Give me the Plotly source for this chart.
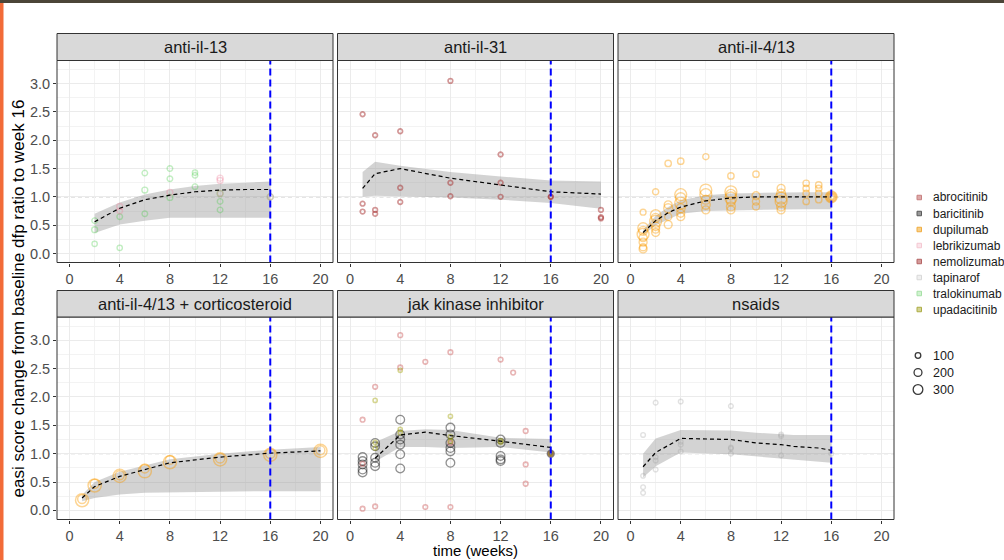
import math
import plotly.graph_objects as go

W, H = 1004, 560

# ---------------- data ----------------
panel_titles = ["anti-il-13", "anti-il-31", "anti-il-4/13",
                "anti-il-4/13 + corticosteroid", "jak kinase inhibitor", "nsaids"]
x_ticks = [0, 4, 8, 12, 16, 20]
y_ticks = [0.0, 0.5, 1.0, 1.5, 2.0, 2.5, 3.0]
drug_names = ["abrocitinib", "baricitinib", "dupilumab", "lebrikizumab",
              "nemolizumab", "tapinarof", "tralokinumab", "upadacitinib"]
size_breaks = [100, 200, 300]
cutoff_week = 16
reference_ratio = 1.0

# anti-il-13
tralo_week = [2, 2, 2, 4, 4, 6, 6, 6, 8, 8, 8, 10, 10, 10, 12, 12, 12, 16]
tralo_ratio = [0.58, 0.42, 0.17, 0.65, 0.10, 1.42, 1.12, 0.70, 1.50, 1.32, 0.99,
               1.43, 1.38, 1.18, 1.06, 0.92, 0.77, 1.00]
tralo_n = [100, 110, 90, 100, 90, 100, 110, 100, 100, 100, 110, 90, 100, 100, 110, 100, 100, 120]

lebri_week = [4, 4, 8, 12, 12, 12, 16]
lebri_ratio = [0.83, 0.75, 1.08, 1.33, 1.29, 1.06, 1.00]
lebri_n = [110, 100, 110, 120, 110, 100, 110]

# anti-il-31
nemo_week = [1, 1, 1, 2, 2, 2, 4, 4, 4, 8, 8, 8, 12, 12, 12, 16, 16, 20, 20, 20]
nemo_ratio = [2.46, 0.88, 0.74, 2.09, 0.77, 0.70, 2.16, 1.16, 0.91, 3.05, 1.25, 1.01,
              1.75, 1.25, 1.00, 1.00, 1.00, 0.77, 0.64, 0.62]
nemo_n = [70, 70, 70, 70, 70, 70, 70, 70, 70, 70, 70, 70, 70, 70, 70, 70, 60, 70, 70, 70]

# anti-il-4/13
dupi_week = [1, 1, 1, 1, 1, 1, 1, 1,
             2, 2, 2, 2, 2, 2, 2,
             3, 3, 3, 3, 3,
             4, 4, 4, 4, 4, 4, 4,
             6, 6, 6, 6, 6, 6,
             8, 8, 8, 8, 8, 8, 8,
             10, 10, 10, 10,
             12, 12, 12, 12, 12, 12,
             14, 14, 14, 14,
             15, 15, 15, 15,
             16, 16, 16, 16, 16]
dupi_ratio = [0.73, 0.45, 0.40, 0.34, 0.28, 0.20, 0.11, 0.08,
              1.09, 0.68, 0.63, 0.57, 0.48, 0.43, 0.37,
              1.59, 0.86, 0.80, 0.65, 0.51,
              1.63, 1.04, 0.98, 0.89, 0.80, 0.71, 0.65,
              1.71, 1.12, 1.04, 0.95, 0.86, 0.77,
              1.37, 1.09, 1.04, 0.98, 0.92, 0.83, 0.77,
              1.40, 1.02, 0.92, 0.83,
              1.15, 1.06, 0.98, 0.92, 0.83, 0.77,
              1.24, 1.15, 1.06, 0.92,
              1.21, 1.15, 1.06, 0.95,
              1.00, 1.00, 1.00, 1.00, 1.00]
dupi_n = [110, 350, 250, 450, 200, 200, 160, 200,
          120, 350, 250, 450, 220, 200, 200,
          130, 200, 250, 160, 200,
          130, 450, 350, 450, 250, 200, 200,
          120, 450, 450, 250, 250, 200,
          130, 450, 350, 450, 250, 250, 200,
          130, 200, 160, 160,
          200, 250, 450, 450, 250, 200,
          130, 130, 130, 130,
          130, 130, 130, 130,
          450, 350, 250, 160, 90]

# anti-il-4/13 + corticosteroid
dupi_cs_week = [1, 1, 2, 2, 4, 4, 6, 6, 8, 8, 12, 12, 16, 16, 20, 20]
dupi_cs_ratio = [0.18, 0.20, 0.44, 0.47, 0.61, 0.62, 0.69, 0.74, 0.85, 0.89,
                 0.90, 0.92, 0.98, 1.00, 1.05, 1.06]
dupi_cs_n = [550, 250, 550, 250, 550, 250, 550, 250, 550, 250, 550, 280, 550, 280, 550, 250]

# jak kinase inhibitor
abro_week = [1, 1, 1, 2, 2, 4, 4, 6, 6, 8, 8, 8, 12, 13, 14, 14, 14, 16]
abro_ratio = [1.60, 0.03, 0.82, 2.18, 0.07, 3.09, 2.52, 2.62, 0.06, 2.79, 0.06, 1.19,
              2.66, 2.43, 1.40, 0.81, 0.47, 1.00]
abro_n = [70, 70, 70, 70, 70, 70, 70, 70, 70, 70, 70, 70, 70, 70, 70, 70, 70, 70]

upa_week = [2, 2, 2, 4, 4, 4, 8, 8, 8, 12, 12, 16]
upa_ratio = [1.94, 1.20, 1.10, 2.47, 1.43, 1.37, 1.66, 1.30, 1.22, 1.23, 1.20, 1.00]
upa_n = [55, 55, 55, 55, 55, 55, 55, 55, 55, 55, 55, 55]

bari_week = [1, 1, 1, 1, 1, 2, 2, 2, 2, 2, 4, 4, 4, 4, 4, 4,
             8, 8, 8, 8, 8, 8, 12, 12, 12, 12, 12, 16, 16, 16, 16]
bari_ratio = [0.94, 0.87, 0.81, 0.72, 0.67, 1.19, 1.13, 0.93, 0.84, 0.78,
              1.60, 1.34, 1.25, 1.16, 0.99, 0.74,
              1.46, 1.34, 1.19, 1.10, 1.04, 0.84,
              1.25, 1.19, 0.96, 0.90, 0.87, 1.00, 1.00, 1.00, 1.00]
bari_n = [240, 240, 240, 240, 240, 240, 240, 240, 240, 240,
          240, 240, 240, 240, 240, 240,
          240, 240, 240, 240, 240, 240,
          240, 240, 240, 240, 240, 160, 90, 40, 15]

# nsaids
tapi_week = [1, 1, 1, 1, 2, 2, 2, 2, 4, 4, 4, 4, 8, 8, 8, 8, 12, 12, 12, 16]
tapi_ratio = [1.33, 0.61, 0.41, 0.31, 1.90, 0.94, 0.88, 0.72, 1.92, 1.21, 1.16, 1.04,
              1.84, 1.11, 1.09, 1.00, 1.34, 1.31, 0.97, 1.00]
tapi_n = [70, 70, 70, 70, 70, 70, 70, 70, 70, 70, 70, 70, 70, 70, 70, 70, 70, 70, 70, 70]

# model mean and interval per panel
band_il13_week = [2, 4, 6, 8, 10, 12, 14, 16]
band_il13_mean = [0.56, 0.80, 0.95, 1.03, 1.09, 1.12, 1.13, 1.13]
band_il13_lo = [0.36, 0.51, 0.58, 0.63, 0.64, 0.64, 0.63, 0.63]
band_il13_hi = [0.70, 0.90, 1.04, 1.13, 1.19, 1.23, 1.25, 1.27]

band_il31_week = [1, 2, 4, 8, 12, 16, 20]
band_il31_mean = [1.15, 1.41, 1.50, 1.33, 1.21, 1.09, 1.05]
band_il31_lo = [1.00, 1.02, 1.01, 0.99, 0.95, 0.89, 0.79]
band_il31_hi = [1.44, 1.62, 1.55, 1.44, 1.36, 1.29, 1.27]

band_il413_week = [1, 2, 3, 4, 6, 8, 10, 12, 14, 16]
band_il413_mean = [0.37, 0.58, 0.72, 0.82, 0.93, 0.98, 1.00, 1.00, 1.00, 1.00]
band_il413_lo = [0.32, 0.50, 0.60, 0.70, 0.75, 0.76, 0.77, 0.78, 0.78, 0.78]
band_il413_hi = [0.42, 0.66, 0.82, 0.94, 1.03, 1.06, 1.07, 1.08, 1.08, 1.08]

band_cs_week = [1, 2, 4, 6, 8, 12, 16, 20]
band_cs_mean = [0.22, 0.42, 0.60, 0.72, 0.84, 0.94, 1.01, 1.05]
band_cs_lo = [0.16, 0.22, 0.28, 0.31, 0.32, 0.33, 0.34, 0.34]
band_cs_hi = [0.27, 0.50, 0.68, 0.79, 0.90, 1.00, 1.07, 1.12]

band_jak_week = [2, 4, 6, 8, 12, 16]
band_jak_mean = [0.92, 1.33, 1.38, 1.32, 1.22, 1.11]
band_jak_lo = [0.86, 1.12, 1.12, 1.10, 1.12, 1.02]
band_jak_hi = [1.20, 1.40, 1.43, 1.42, 1.28, 1.26]

band_nsaid_week = [1, 2, 4, 8, 10, 12, 13, 15, 16]
band_nsaid_mean = [0.77, 1.02, 1.27, 1.25, 1.19, 1.16, 1.13, 1.10, 1.06]
band_nsaid_lo = [0.58, 0.78, 1.02, 0.99, 0.95, 0.91, 0.89, 0.86, 0.84]
band_nsaid_hi = [1.00, 1.27, 1.42, 1.41, 1.37, 1.34, 1.33, 1.33, 1.33]

# ---------------- styling ----------------
FONT = "Liberation Sans, Arial, sans-serif"
drug_colors = {
    "abrocitinib": "rgba(205,92,92,0.65)",
    "baricitinib": "rgba(30,30,30,0.7)",
    "dupilumab": "rgba(250,155,0,0.6)",
    "lebrikizumab": "rgba(240,120,150,0.45)",
    "nemolizumab": "rgba(165,42,42,0.7)",
    "tapinarof": "rgba(160,160,160,0.45)",
    "tralokinumab": "rgba(60,200,60,0.45)",
    "upadacitinib": "rgba(160,160,0,0.6)",
}
key_colors = {
    "abrocitinib": ("#dcaaaa", "#c88080"),
    "baricitinib": ("#999999", "#5a5a5a"),
    "dupilumab": ("#f8d08a", "#f0ad40"),
    "lebrikizumab": ("#fbe4ea", "#f4c8d2"),
    "nemolizumab": ("#d49a9a", "#b46464"),
    "tapinarof": ("#f0f0f0", "#d8d8d8"),
    "tralokinumab": ("#d0f2d0", "#a6e0a6"),
    "upadacitinib": ("#d4d494", "#acac44"),
}

cols_px = [(57, 333), (337.5, 613.5), (618, 894)]
rows_px = [(60.5, 262.5), (317, 519.5)]
strips_px = [(33.5, 60.5), (290.5, 317)]
x_range = [-1, 21]
y_range = [-0.16, 3.41]

TICK_FONT = dict(size=14.5, color="#4d4d4d", family=FONT)


def px(x):
    return x / W


def py(y):
    return 1 - y / H


def msize(ns):
    return [0.56 * math.sqrt(n) for n in ns]


def axes(i):
    sfx = "" if i == 0 else str(i + 1)
    return "x" + sfx, "y" + sfx


fig = go.Figure()
layout = dict(
    width=W, height=H, margin=dict(l=0, r=0, t=0, b=0),
    paper_bgcolor="white", plot_bgcolor="white", showlegend=False,
    font=dict(family=FONT),
)
shapes = []
annotations = []

for i in range(6):
    r, c = divmod(i, 3)
    sfx = "" if i == 0 else str(i + 1)
    x0, x1 = cols_px[c]
    y0, y1 = rows_px[r]
    layout["xaxis" + sfx] = dict(
        domain=[px(x0), px(x1)], range=x_range, anchor="y" + sfx,
        tickvals=x_ticks, ticktext=[str(t) for t in x_ticks],
        ticks="outside", ticklen=3, tickcolor="#333333", tickwidth=1,
        tickfont=TICK_FONT,
        showgrid=True, gridcolor="#ebebeb", gridwidth=1.1, zeroline=False,
        showline=False,
        minor=dict(tickvals=[2, 6, 10, 14, 18], showgrid=True,
                   gridcolor="#f3f3f3", gridwidth=0.6, ticks=""),
    )
    layout["yaxis" + sfx] = dict(
        domain=[py(y1), py(y0)], range=y_range, anchor="x" + sfx,
        tickvals=y_ticks, ticktext=[f"{t:.1f}" for t in y_ticks],
        ticks="outside" if c == 0 else "", ticklen=3, tickcolor="#333333",
        showticklabels=(c == 0),
        tickfont=TICK_FONT,
        showgrid=True, gridcolor="#ebebeb", gridwidth=1.1, zeroline=False,
        showline=False,
        minor=dict(tickvals=[0.25, 0.75, 1.25, 1.75, 2.25, 2.75, 3.25],
                   showgrid=True, gridcolor="#f3f3f3", gridwidth=0.6, ticks=""),
    )
    xa, ya = axes(i)
    shapes.append(dict(type="line", xref=xa, yref=ya,
                       x0=x_range[0], x1=x_range[1], y0=reference_ratio, y1=reference_ratio,
                       line=dict(color="#b8b8b8", width=1, dash="4px,3px"),
                       layer="below"))
    shapes.append(dict(type="line", xref=xa, yref=ya,
                       x0=cutoff_week, x1=cutoff_week, y0=y_range[0], y1=y_range[1],
                       line=dict(color="#0000ff", width=2, dash="7px,4px"),
                       layer="above"))
    shapes.append(dict(type="rect", xref="paper", yref="paper",
                       x0=px(x0), x1=px(x1), y0=py(y1), y1=py(y0),
                       line=dict(color="#333333", width=1),
                       layer="above"))
    s0, s1 = strips_px[r]
    shapes.append(dict(type="rect", xref="paper", yref="paper",
                       x0=px(x0), x1=px(x1), y0=py(s1), y1=py(s0),
                       line=dict(color="#333333", width=1), fillcolor="#d9d9d9",
                       layer="above"))
    annotations.append(dict(text=panel_titles[i], xref="paper", yref="paper",
                            x=px((x0 + x1) / 2), y=py((s0 + s1) / 2),
                            xanchor="center", yanchor="middle", showarrow=False,
                            font=dict(size=16.5, color="#1a1a1a", family=FONT)))

bands = [
    (band_il13_week, band_il13_mean, band_il13_lo, band_il13_hi),
    (band_il31_week, band_il31_mean, band_il31_lo, band_il31_hi),
    (band_il413_week, band_il413_mean, band_il413_lo, band_il413_hi),
    (band_cs_week, band_cs_mean, band_cs_lo, band_cs_hi),
    (band_jak_week, band_jak_mean, band_jak_lo, band_jak_hi),
    (band_nsaid_week, band_nsaid_mean, band_nsaid_lo, band_nsaid_hi),
]

points = [
    (0, "tralokinumab", tralo_week, tralo_ratio, tralo_n, 1.4),
    (0, "lebrikizumab", lebri_week, lebri_ratio, lebri_n, 1.4),
    (1, "nemolizumab", nemo_week, nemo_ratio, nemo_n, 1.7),
    (2, "dupilumab", dupi_week, dupi_ratio, dupi_n, 1.4),
    (3, "dupilumab", dupi_cs_week, dupi_cs_ratio, dupi_cs_n, 1.5),
    (4, "baricitinib", bari_week, bari_ratio, bari_n, 1.3),
    (4, "abrocitinib", abro_week, abro_ratio, abro_n, 1.6),
    (4, "upadacitinib", upa_week, upa_ratio, upa_n, 1.6),
    (5, "tapinarof", tapi_week, tapi_ratio, tapi_n, 1.4),
]

for i, (wk, mean, lo, hi) in enumerate(bands):
    xa, ya = axes(i)
    fig.add_trace(go.Scatter(x=list(wk) + list(wk)[::-1], y=list(hi) + list(lo)[::-1],
                             fill="toself", fillcolor="rgba(150,150,150,0.42)",
                             line=dict(width=0), mode="lines", hoverinfo="skip",
                             xaxis=xa, yaxis=ya))

for i, drug, wk, ratio, ns, lw in points:
    xa, ya = axes(i)
    fig.add_trace(go.Scatter(x=wk, y=ratio, mode="markers", name=drug,
                             marker=dict(symbol="circle-open", size=msize(ns),
                                         color=drug_colors[drug],
                                         line=dict(width=lw, color=drug_colors[drug])),
                             xaxis=xa, yaxis=ya))

for i, (wk, mean, lo, hi) in enumerate(bands):
    xa, ya = axes(i)
    fig.add_trace(go.Scatter(x=wk, y=mean, mode="lines",
                             line=dict(color="black", width=1.2, dash="4px,3px"),
                             hoverinfo="skip", xaxis=xa, yaxis=ya))

# ---------------- manual legend ----------------
for k, drug in enumerate(drug_names):
    yc = 197.5 + 16 * k
    fill, edge = key_colors[drug]
    shapes.append(dict(type="rect", xref="paper", yref="paper",
                       x0=px(917), x1=px(921.5), y0=py(yc + 2.25), y1=py(yc - 2.25),
                       line=dict(color=edge, width=1), fillcolor=fill))
    annotations.append(dict(text=drug, xref="paper", yref="paper", x=px(931), y=py(yc),
                            xanchor="left", yanchor="middle", showarrow=False,
                            font=dict(size=12, color="#1a1a1a", family=FONT)))

for k, n in enumerate(size_breaks):
    yc = 355.5 + 17 * k
    d = 0.56 * math.sqrt(n)
    shapes.append(dict(type="circle", xref="paper", yref="paper",
                       x0=px(918 - d / 2), x1=px(918 + d / 2),
                       y0=py(yc + d / 2), y1=py(yc - d / 2),
                       line=dict(color="#3a3a3a", width=1.3)))
    annotations.append(dict(text=str(n), xref="paper", yref="paper", x=px(931), y=py(yc),
                            xanchor="left", yanchor="middle", showarrow=False,
                            font=dict(size=12.5, color="#1a1a1a", family=FONT)))

annotations.append(dict(text="time (weeks)", xref="paper", yref="paper",
                        x=px(475.5), y=py(560), xanchor="center", yanchor="bottom",
                        showarrow=False, borderpad=0,
                        font=dict(size=15, color="black", family=FONT)))
annotations.append(dict(text="easi score change from baseline dfp ratio to week 16",
                        xref="paper", yref="paper", x=px(17.5), y=py(299),
                        xanchor="center", yanchor="middle", textangle=-90,
                        showarrow=False, font=dict(size=17, color="black", family=FONT)))

# window frame decorations
shapes.append(dict(type="rect", xref="paper", yref="paper", x0=0, x1=1,
                   y0=py(3), y1=1, line=dict(width=0), fillcolor="#4b4538"))
shapes.append(dict(type="rect", xref="paper", yref="paper", x0=0, x1=px(3.5),
                   y0=0, y1=py(3), line=dict(width=0), fillcolor="#f26b38"))

layout["shapes"] = shapes
layout["annotations"] = annotations
fig.update_layout(**layout)
fig.write_html("out.html", config={"displayModeBar": False},
               post_script="document.body.style.margin='0px';document.body.style.overflow='hidden';")
